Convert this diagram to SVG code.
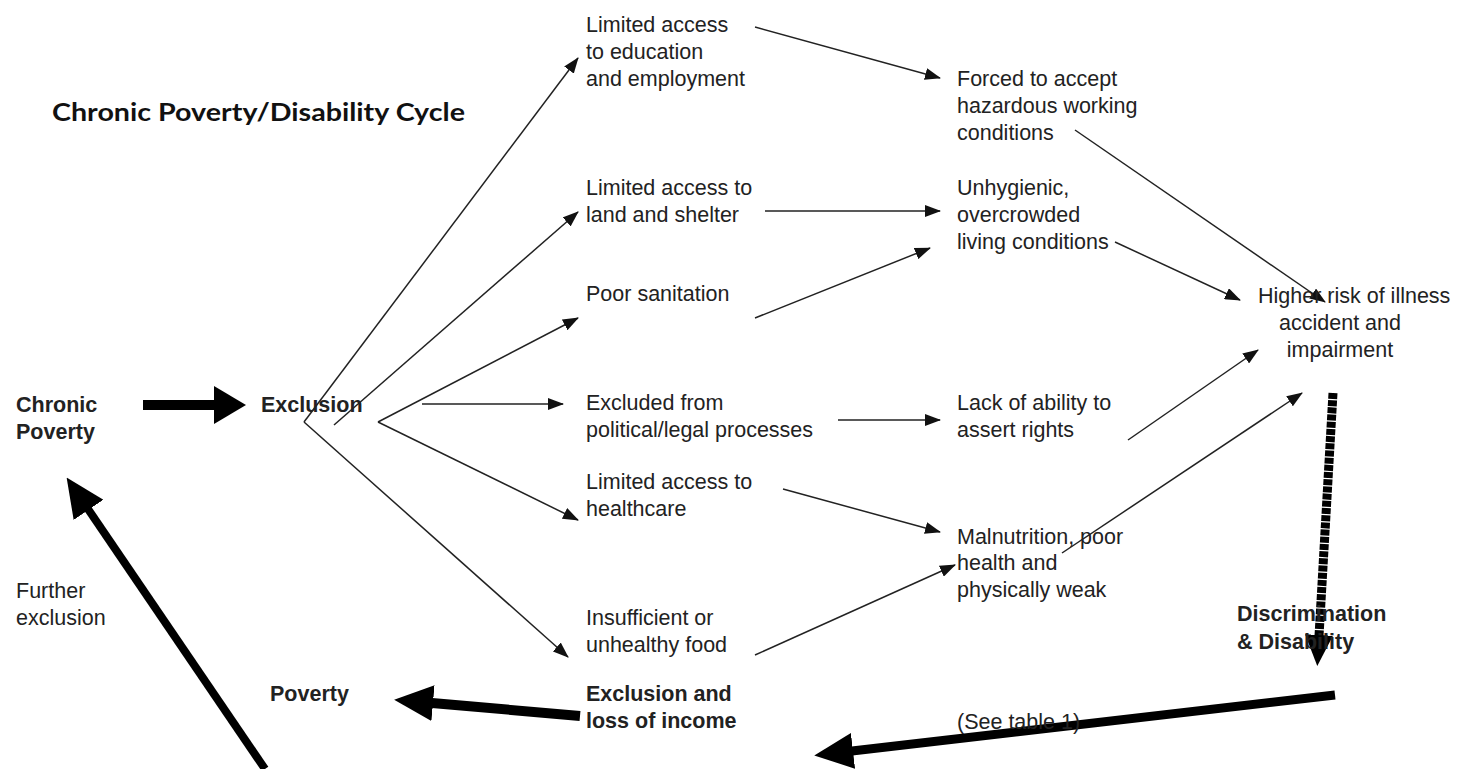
<svg xmlns="http://www.w3.org/2000/svg" width="1457" height="769" viewBox="0 0 1457 769">
<style>
text{font-family:"Liberation Sans",Arial,sans-serif;font-size:21.5px;fill:#222}
.b{font-weight:bold}
.title{font-family:Lato,"Liberation Sans",sans-serif;font-weight:bold;font-size:24px;fill:#111}
.thin{stroke:#222;stroke-width:1.5;fill:none;marker-end:url(#ah)}
.thick{stroke:#000;fill:none}
</style>
<defs>
<marker id="ah" markerUnits="userSpaceOnUse" markerWidth="16" markerHeight="12" viewBox="0 0 16 12" refX="15" refY="6" orient="auto"><path d="M0,0 L16,6 L0,12 z" fill="#111"/></marker>
<marker id="hA" markerUnits="userSpaceOnUse" markerWidth="32" markerHeight="38" viewBox="0 0 32 38" refX="1" refY="19" orient="auto"><path d="M0,0 L32,19 L0,38 z" fill="#000"/></marker>
<marker id="hB" markerUnits="userSpaceOnUse" markerWidth="39" markerHeight="36" viewBox="0 0 39 36" refX="1" refY="18" orient="auto"><path d="M0,0 L39,18 L0,36 z" fill="#000"/></marker>
<marker id="hC" markerUnits="userSpaceOnUse" markerWidth="31" markerHeight="28" viewBox="0 0 31 28" refX="1" refY="14" orient="auto"><path d="M0,0 L31,14 L0,28 z" fill="#000"/></marker>
</defs>
<rect width="1457" height="769" fill="#fff"/>
<text class="title" x="52" y="121" textLength="413" lengthAdjust="spacingAndGlyphs">Chronic Poverty/Disability Cycle</text>
<g id="connectors">
<line class="thin" x1="304" y1="422" x2="578" y2="58"/>
<line class="thin" x1="334" y1="425" x2="578" y2="212"/>
<line class="thin" x1="378" y1="422" x2="578" y2="318"/>
<line class="thin" x1="422" y1="404" x2="563" y2="404"/>
<line class="thin" x1="378" y1="422" x2="578" y2="520"/>
<line class="thin" x1="304" y1="422" x2="568" y2="657"/>
<line class="thin" x1="755" y1="27" x2="940" y2="78"/>
<line class="thin" x1="765" y1="211" x2="940" y2="211"/>
<line class="thin" x1="755" y1="318" x2="930" y2="248"/>
<line class="thin" x1="838" y1="420" x2="940" y2="420"/>
<line class="thin" x1="783" y1="489" x2="940" y2="532"/>
<line class="thin" x1="755" y1="655" x2="955" y2="565"/>
<line class="thin" x1="1075" y1="130" x2="1325" y2="302"/>
<line class="thin" x1="1115" y1="242" x2="1240" y2="300"/>
<line class="thin" x1="1128" y1="440" x2="1258" y2="350"/>
<line class="thin" x1="1062" y1="553" x2="1302" y2="393"/>
<line class="thick" stroke-width="10" x1="143" y1="405" x2="215" y2="405" marker-end="url(#hA)"/>
<line class="thick" stroke-width="10" x1="580" y1="716" x2="432" y2="703" marker-end="url(#hB)"/>
<line class="thick" stroke-width="9" x1="1335" y1="695" x2="852" y2="751" marker-end="url(#hB)"/>
<line class="thick" stroke-width="9" stroke-dasharray="6 1.2" x1="1333" y1="393" x2="1319" y2="636" marker-end="url(#hC)"/>
<line class="thick" stroke-width="8" x1="265" y1="769" x2="88" y2="509" marker-end="url(#hB)"/>
</g>
<g id="chronic-poverty"><text class="b" x="16" y="412">Chronic</text><text class="b" x="16" y="439">Poverty</text></g>
<g id="exclusion"><text class="b" x="261" y="412">Exclusion</text></g>
<g id="education"><text x="586" y="32">Limited access</text><text x="586" y="59">to education</text><text x="586" y="86">and employment</text></g>
<g id="hazardous"><text x="957" y="86">Forced to accept</text><text x="957" y="113">hazardous working</text><text x="957" y="140">conditions</text></g>
<g id="land"><text x="586" y="195">Limited access to</text><text x="586" y="222">land and shelter</text></g>
<g id="unhygienic"><text x="957" y="195">Unhygienic,</text><text x="957" y="222">overcrowded</text><text x="957" y="249">living conditions</text></g>
<g id="sanitation"><text x="586" y="301">Poor sanitation</text></g>
<g id="higher-risk"><text x="1258" y="303">Higher risk of illness</text><text x="1340" y="330" text-anchor="middle">accident and</text><text x="1340" y="357" text-anchor="middle">impairment</text></g>
<g id="political"><text x="586" y="410">Excluded from</text><text x="586" y="437">political/legal processes</text></g>
<g id="rights"><text x="957" y="410">Lack of ability to</text><text x="957" y="437">assert rights</text></g>
<g id="healthcare"><text x="586" y="489">Limited access to</text><text x="586" y="516">healthcare</text></g>
<g id="malnutrition"><text x="957" y="544">Malnutrition, poor</text><text x="957" y="570">health and</text><text x="957" y="597">physically weak</text></g>
<g id="further-exclusion"><text x="16" y="598">Further</text><text x="16" y="625">exclusion</text></g>
<g id="food"><text x="586" y="625">Insufficient or</text><text x="586" y="652">unhealthy food</text></g>
<g id="discrimination"><text class="b" x="1237" y="621">Discrimination</text><text class="b" x="1237" y="649">&amp; Disability</text></g>
<g id="poverty"><text class="b" x="270" y="701">Poverty</text></g>
<g id="income-loss"><text class="b" x="586" y="701">Exclusion and</text><text class="b" x="586" y="728">loss of income</text></g>
<g id="see-table"><text x="957" y="729">(See table 1)</text></g>
</svg>
